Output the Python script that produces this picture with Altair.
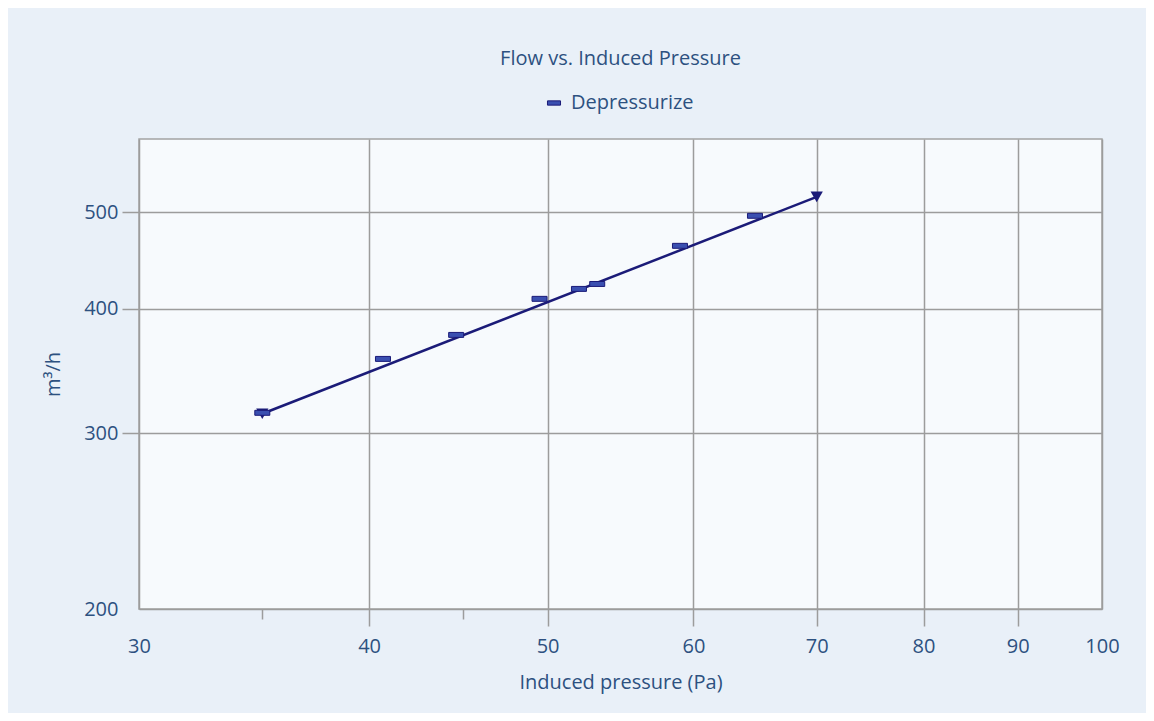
import altair as alt
import pandas as pd

# measured data (Depressurize)
pressure = [35.0, 40.7, 44.6, 49.5, 52.0, 53.2, 59.0, 64.8]
flow = [314.6, 356.3, 376.6, 409.3, 418.8, 423.6, 462.6, 495.8]

# fitted line endpoints
fit_pressure = [35.0, 70.0]
fit_flow = [313.9, 518.0]

series_name = "Depressurize"
x_ticks = [30, 35, 40, 45, 50, 60, 70, 80, 90, 100]
y_ticks = [200, 300, 400, 500]

TEXT = "#2d5180"
FONT = "Open Sans"
LINE = "#1b1b78"
FILL = "#3a4fb0"

pts = pd.DataFrame({"p": pressure, "q": flow, "s": [series_name] * len(pressure)})
fit = pd.DataFrame({"p": fit_pressure, "q": fit_flow})

xscale = alt.Scale(type="log", domain=[30, 100], nice=False)
yscale = alt.Scale(type="log", domain=[200, 592], nice=False)

xaxis = alt.Axis(
    title="Induced pressure (Pa)",
    values=x_ticks,
    labelExpr="(datum.value == 35 || datum.value == 45) ? '' : datum.label",
    gridOpacity={"condition": {"test": "datum.value == 35 || datum.value == 45", "value": 0}, "value": 1},
    tickSize={"condition": {"test": "datum.value == 35 || datum.value == 45", "value": 10}, "value": 17},
    tickOpacity={"condition": {"test": "datum.value == 30 || datum.value == 100", "value": 0}, "value": 1},
    labelFlush=False,
    labelPadding=10,
    titlePadding=16,
)
yaxis = alt.Axis(
    title="m³/h",
    values=y_ticks,
    tickSize=17,
    tickOpacity={"condition": {"test": "datum.value == 200", "value": 0}, "value": 1},
    labelFlush=False,
    labelPadding=4,
    titlePadding=20,
)

line = alt.Chart(fit).mark_line(color=LINE, strokeWidth=2.5).encode(
    x=alt.X("p:Q", scale=xscale, axis=xaxis),
    y=alt.Y("q:Q", scale=yscale, axis=yaxis),
)
ends = alt.Chart(fit).mark_point(shape="triangle-down", filled=True, color=LINE, size=150, opacity=1).encode(
    x=alt.X("p:Q", scale=xscale),
    y=alt.Y("q:Q", scale=yscale),
)
DASH = "M -1 -0.33 H 1 V 0.33 H -1 Z"
points = alt.Chart(pts).mark_point(
    shape=DASH, filled=True, size=225, stroke=LINE, strokeWidth=1, opacity=1
).encode(
    x=alt.X("p:Q", scale=xscale),
    y=alt.Y("q:Q", scale=yscale),
    color=alt.Color(
        "s:N",
        scale=alt.Scale(domain=[series_name], range=[FILL]),
        legend=alt.Legend(
            title=None,
            orient="none",
            legendX=405,
            legendY=-46,
            symbolType=DASH,
            symbolSize=170,
            symbolStrokeColor=LINE,
            symbolStrokeWidth=1,
            symbolFillColor=FILL,
            labelFont=FONT,
            labelFontSize=20,
            labelColor=TEXT,
            labelOffset=7,
        ),
    ),
)

chart = (
    alt.layer(line, ends, points)
    .properties(
        width=963,
        height=470,
        autosize=alt.AutoSizeParams(type="none"),
        padding={"left": 131, "top": 131, "right": 44, "bottom": 104},
        title=alt.TitleParams(
            "Flow vs. Induced Pressure",
            font=FONT,
            fontSize=20,
            fontWeight="normal",
            color=TEXT,
            anchor="middle",
            offset=24,
        ),
    )
    .configure(background="#e9f0f8")
    .configure_view(stroke="#a3a3a3", strokeWidth=1.5, fill="#f7fafd")
    .configure_axis(
        grid=True,
        gridColor="#9c9c9c",
        gridWidth=1.5,
        domain=False,
        tickColor="#9c9c9c",
        tickWidth=1.5,
        labelFont=FONT,
        labelFontSize=20,
        labelColor=TEXT,
        titleFont=FONT,
        titleFontSize=20,
        titleFontWeight="normal",
        titleColor=TEXT,
    )
)

chart.save("out.html", embed_options={"renderer": "svg", "actions": False})
